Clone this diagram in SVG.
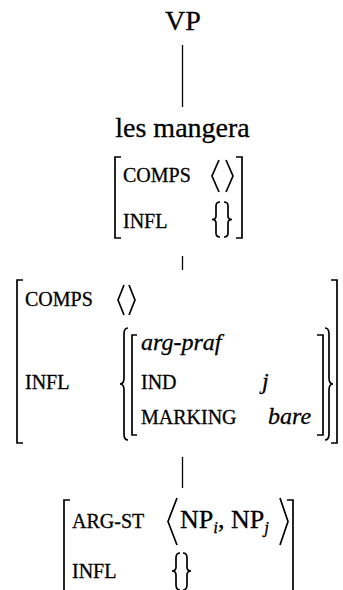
<svg xmlns="http://www.w3.org/2000/svg" width="343" height="590" viewBox="0 0 343 590" font-family="Liberation Serif, serif">
<style>
text{font-family:'Liberation Serif','Times New Roman',serif;fill:#000;stroke:#000;stroke-width:0.3}
.big{font-size:28px}
.lab{font-size:20px}
.val{font-size:24px;font-style:italic}
.br{fill:none;stroke:#000;stroke-width:1.7;stroke-linejoin:miter}
.ln{stroke:#000;stroke-width:1.3}
</style>
<rect width="343" height="590" fill="#fff"/>
<g id="connectors">
<line class="ln" x1="182.5" y1="45" x2="182.5" y2="107"/>
<line class="ln" x1="182.5" y1="256" x2="182.5" y2="270"/>
<line class="ln" x1="182.5" y1="457" x2="182.5" y2="488"/>
</g>
<g id="node-vp">
<text class="big" x="183" y="30" text-anchor="middle">VP</text>
</g>
<g id="node-les-mangera">
<text class="big" x="182.5" y="137" text-anchor="middle">les mangera</text>
<path class="br" d="M121 157H115V238H121"/>
<path class="br" d="M236 157H242V238H236"/>
<text class="lab" x="123" y="182">COMPS</text>
<text class="lab" x="123" y="228">INFL</text>
<path class="br" d="M219 160L212 176L219 192M226 160L233 176L226 192"/>
<path class="br" d="M220 202Q216 202 216 206L216 216Q216 219.5 212 219.5Q216 219.5 216 223L216 233Q216 237 220 237"/>
<path class="br" d="M224 202Q228 202 228 206L228 216Q228 219.5 232 219.5Q228 219.5 228 223L228 233Q228 237 224 237"/>
</g>
<g id="node-avm-middle">
<path class="br" d="M23 280H17V443H23"/>
<path class="br" d="M331 280H337V443H331"/>
<text class="lab" x="25" y="306">COMPS</text>
<path class="br" d="M124 285L118 300L124 315M129 285L135 300L129 315"/>
<text class="lab" x="25" y="389">INFL</text>
<path class="br" d="M128 328Q124 328 124 334L124 378Q124 384 120 384Q124 384 124 390L124 434Q124 440 128 440"/>
<path class="br" d="M137 335H132V435H137"/>
<text class="val" x="141" y="350">arg-praf</text>
<text class="lab" x="141" y="389">IND</text>
<text class="val" x="262" y="389">j</text>
<text class="lab" x="141" y="424">MARKING</text>
<text class="val" x="268" y="424">bare</text>
<path class="br" d="M317 335H323V435H317"/>
<path class="br" d="M325 328Q329 328 329 334L329 378Q329 384 333 384Q329 384 329 390L329 434Q329 440 325 440"/>
</g>
<g id="node-avm-bottom">
<path class="br" d="M70 500H64V592"/>
<path class="br" d="M287 500H293V592"/>
<text class="lab" x="72" y="528">ARG-ST</text>
<path class="br" d="M177 498L168 521.5L177 545M280 498L288 521.5L280 545"/>
<text x="180" y="528" font-size="26">NP<tspan font-size="17" font-style="italic" dy="5">i</tspan><tspan dy="-5">, NP</tspan><tspan font-size="17" font-style="italic" dy="5">j</tspan></text>
<text class="lab" x="72" y="578">INFL</text>
<path class="br" d="M180 553Q176 553 176 558L176 567Q176 571 172 571Q176 571 176 575L176 585Q176 590 180 590"/>
<path class="br" d="M183 553Q187 553 187 558L187 567Q187 571 191 571Q187 571 187 575L187 585Q187 590 183 590"/>
</g>
</svg>
